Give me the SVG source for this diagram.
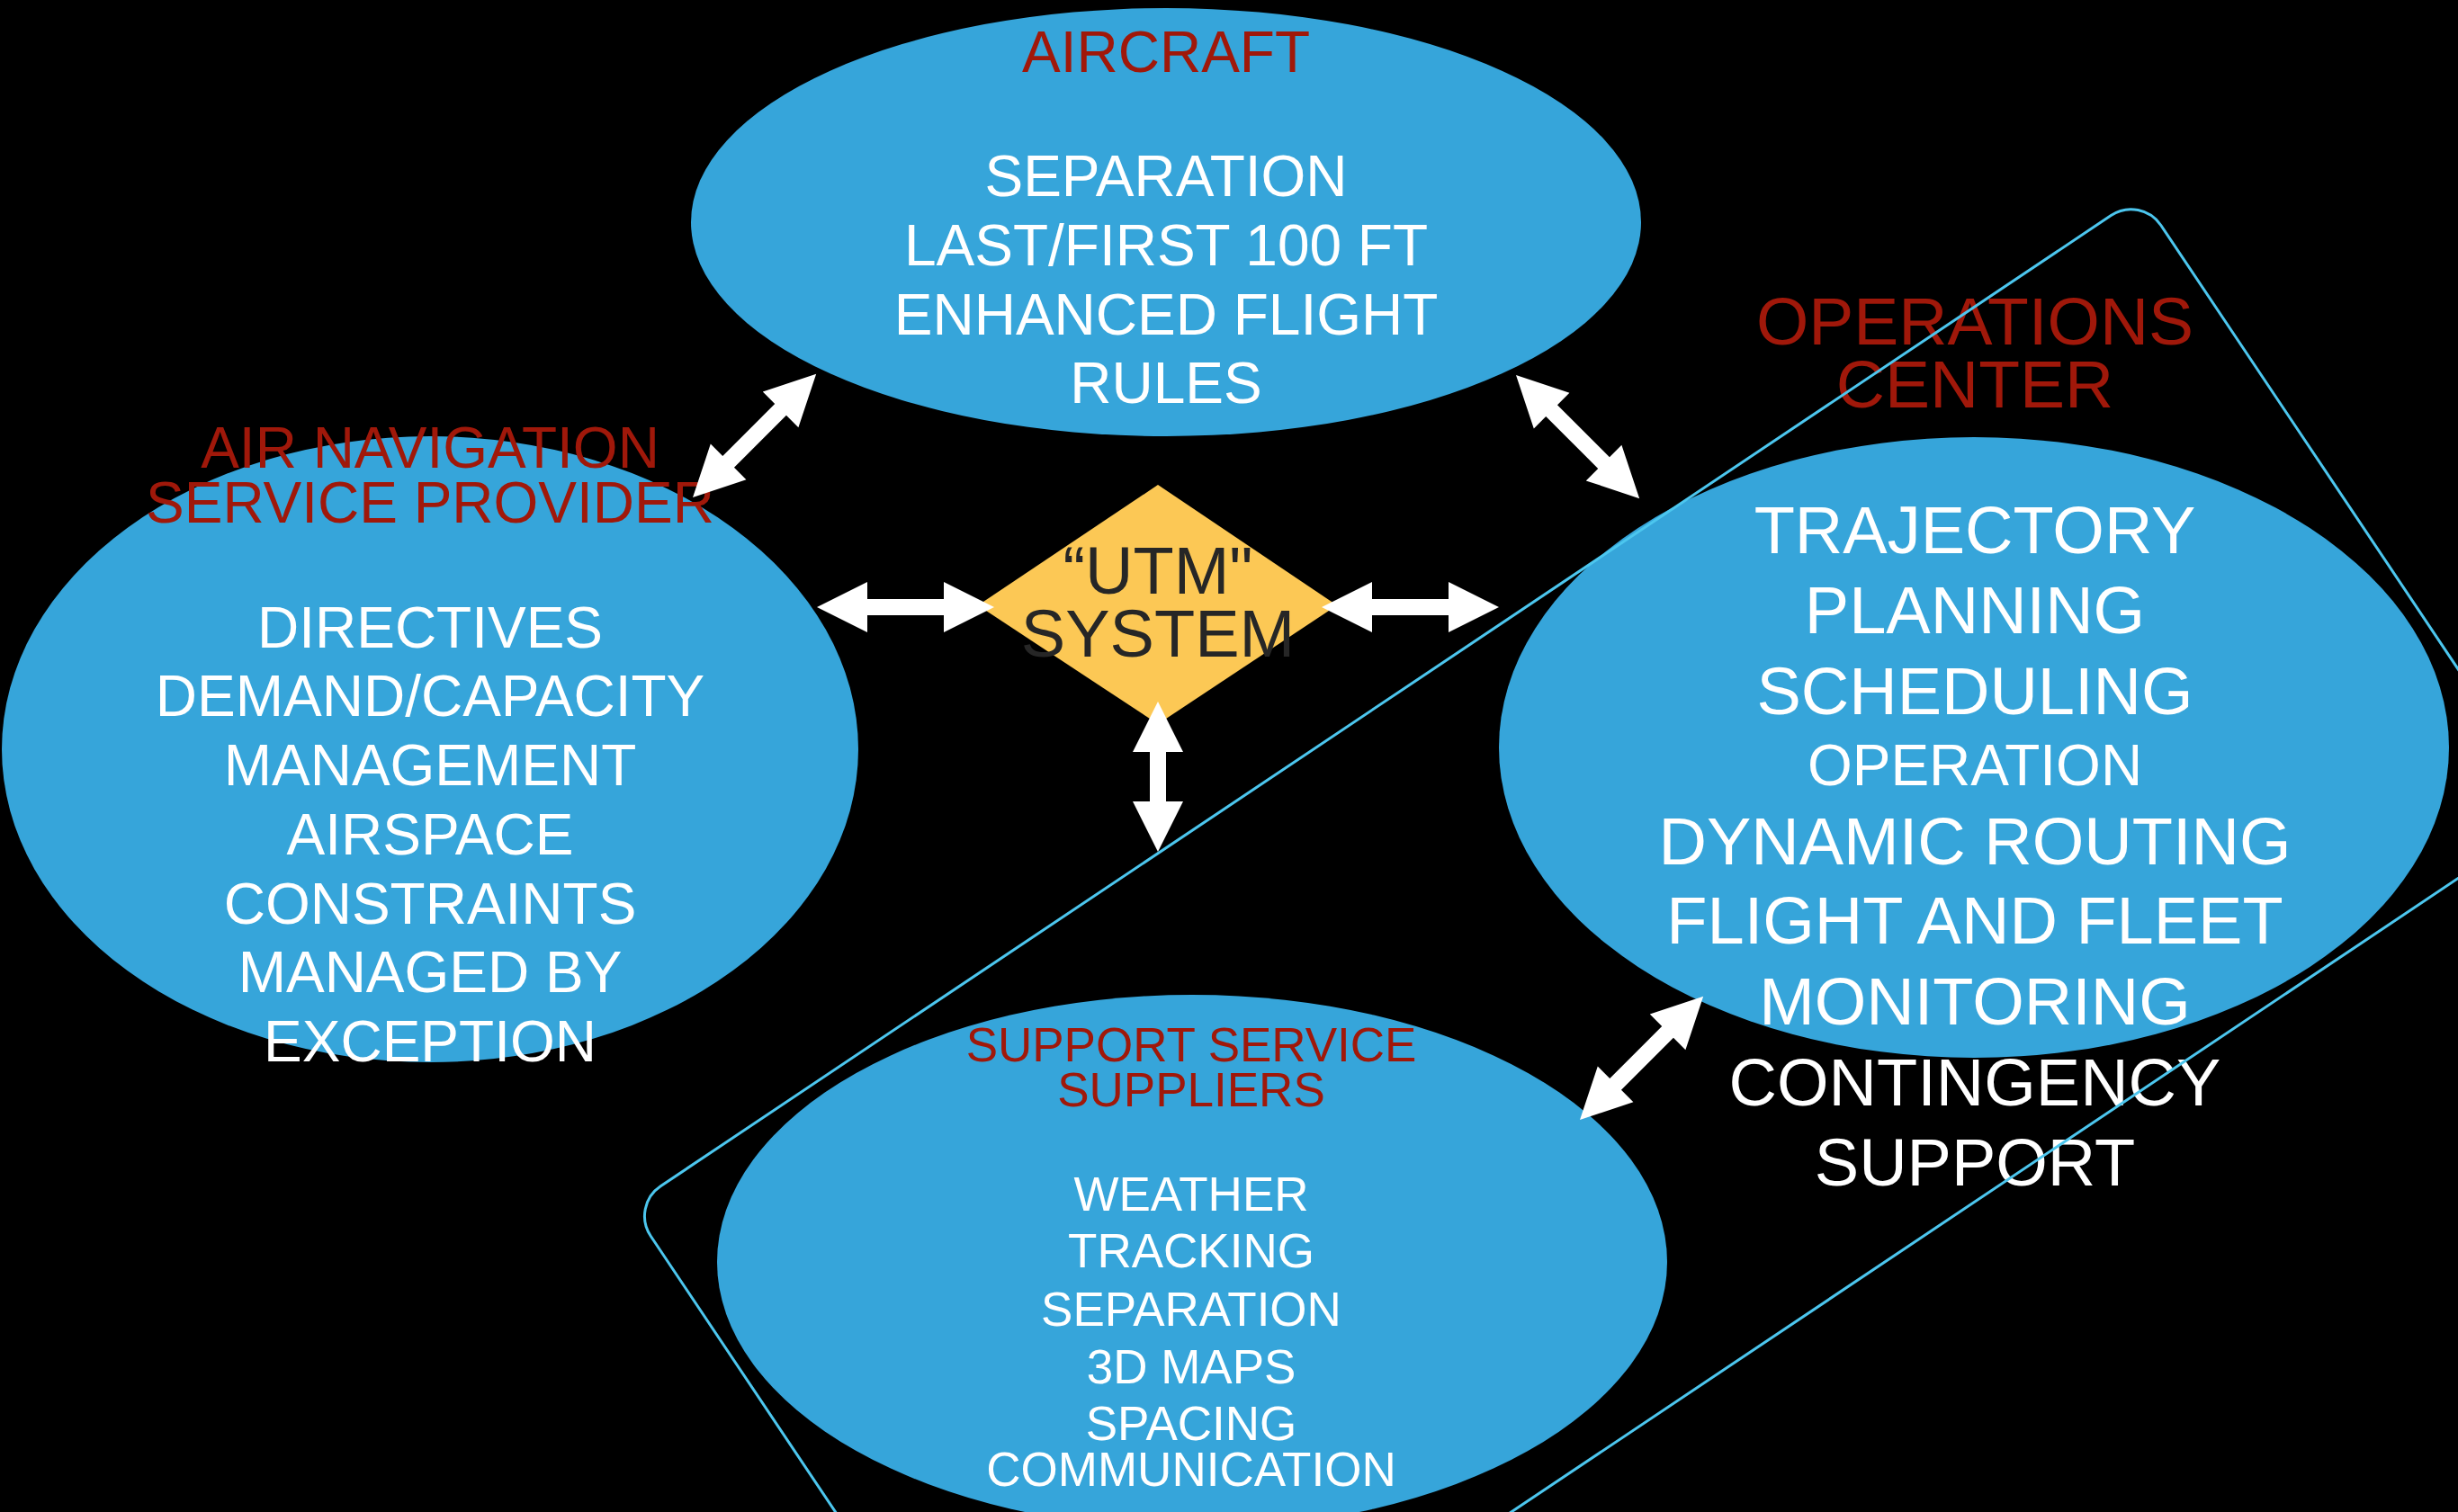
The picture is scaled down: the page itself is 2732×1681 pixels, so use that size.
<svg xmlns="http://www.w3.org/2000/svg" width="2732" height="1681" viewBox="0 0 2732 1681">
  <style>
    .bubble { fill: #36A5DA; }
    text { font-family: "Liberation Sans", Arial, sans-serif; text-anchor: middle; }
    .title { fill: #A0180A; }
    .body { fill: #FFFFFF; }
    .hub { fill: #262626; font-size: 74px; }
    .link { fill: #FFFFFF; }
    .frame { fill: none; stroke: #4CC6EE; stroke-width: 3; }
  </style>
  <defs>
    <!-- double-headed block arrows along +x, centred on y=0 -->
    <path id="dbl194" d="M0,0 L56,-28 L56,-9 L138,-9 L138,-28 L194,0 L138,28 L138,9 L56,9 L56,28 Z"/>
    <path id="dbl197" d="M0,0 L56,-28 L56,-9 L141,-9 L141,-28 L197,0 L141,28 L141,9 L56,9 L56,28 Z"/>
    <path id="dbl167" d="M0,0 L56,-28 L56,-9 L111,-9 L111,-28 L167,0 L111,28 L111,9 L56,9 L56,28 Z"/>
  </defs>

  <rect x="0" y="0" width="2732" height="1681" fill="#000000"/>

  <g id="aircraft" font-size="64">
    <ellipse class="bubble" cx="1296" cy="247" rx="528" ry="238"/>
    <text class="title" x="1296" y="80">AIRCRAFT</text>
    <text class="body" x="1296" y="218">SEPARATION</text>
    <text class="body" x="1296" y="295">LAST/FIRST 100 FT</text>
    <text class="body" x="1296" y="372">ENHANCED FLIGHT</text>
    <text class="body" x="1296" y="448">RULES</text>
  </g>

  <g id="ansp" font-size="64">
    <ellipse class="bubble" cx="478" cy="833" rx="476" ry="348"/>
    <text class="title" x="478" y="520">AIR NAVIGATION</text>
    <text class="title" x="478" y="581">SERVICE PROVIDER</text>
    <text class="body" x="478" y="720">DIRECTIVES</text>
    <text class="body" x="478" y="796">DEMAND/CAPACITY</text>
    <text class="body" x="478" y="873">MANAGEMENT</text>
    <text class="body" x="478" y="950">AIRSPACE</text>
    <text class="body" x="478" y="1027">CONSTRAINTS</text>
    <text class="body" x="478" y="1103">MANAGED BY</text>
    <text class="body" x="478" y="1180">EXCEPTION</text>
  </g>

  <g id="operations-center" font-size="74">
    <ellipse class="bubble" cx="2194" cy="831" rx="528" ry="345"/>
    <text class="title" x="2195" y="383" font-size="75">OPERATIONS</text>
    <text class="title" x="2195" y="453" font-size="75">CENTER</text>
    <text class="body" x="2195" y="615">TRAJECTORY</text>
    <text class="body" x="2195" y="704">PLANNING</text>
    <text class="body" x="2195" y="794">SCHEDULING</text>
    <text class="body" x="2195" y="873" font-size="64">OPERATION</text>
    <text class="body" x="2195" y="961">DYNAMIC ROUTING</text>
    <text class="body" x="2195" y="1049">FLIGHT AND FLEET</text>
    <text class="body" x="2195" y="1139">MONITORING</text>
    <text class="body" x="2195" y="1229">CONTINGENCY</text>
    <text class="body" x="2195" y="1318">SUPPORT</text>
  </g>

  <g id="support-services" font-size="53">
    <ellipse class="bubble" cx="1325" cy="1403" rx="528" ry="297"/>
    <text class="title" x="1324" y="1180">SUPPORT SERVICE</text>
    <text class="title" x="1324" y="1230">SUPPLIERS</text>
    <text class="body" x="1324" y="1346">WEATHER</text>
    <text class="body" x="1324" y="1409">TRACKING</text>
    <text class="body" x="1324" y="1474">SEPARATION</text>
    <text class="body" x="1324" y="1538">3D MAPS</text>
    <text class="body" x="1324" y="1601">SPACING</text>
    <text class="body" x="1324" y="1652">COMMUNICATION</text>
  </g>

  <g id="utm-system">
    <polygon points="1287,539 1486,673 1287,805 1087,673" fill="#FCC855"/>
    <text class="hub" x="1287" y="660">“UTM"</text>
    <text class="hub" x="1287" y="730">SYSTEM</text>
  </g>

  <g id="connectors" class="link">
    <use href="#dbl197" transform="translate(908,675)"/>
    <use href="#dbl197" transform="translate(1469,675)"/>
    <use href="#dbl167" transform="translate(1287,780) rotate(90)"/>
    <use href="#dbl194" transform="translate(770,553) rotate(-45)"/>
    <use href="#dbl194" transform="translate(1685,417) rotate(45)"/>
    <use href="#dbl194" transform="translate(1756,1245) rotate(-45)"/>
  </g>

  <!-- tilted outline framing the operations side -->
  <g id="outline">
    <rect class="frame" x="701" y="1341" width="2020" height="827" rx="40" ry="40" transform="rotate(-33.8 701 1341)"/>
  </g>
</svg>
